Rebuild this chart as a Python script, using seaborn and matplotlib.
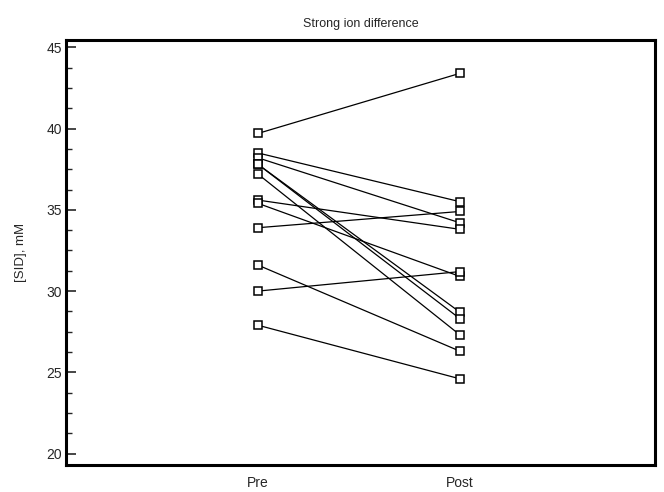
import numpy as np
import pandas as pd
import matplotlib
matplotlib.use("Agg")
import matplotlib.pyplot as plt
import seaborn as sns
from matplotlib.ticker import MultipleLocator

# paired SID values (mM), one entry per subject
pre = [39.7, 38.5, 38.2, 37.8, 37.8, 37.2, 35.6, 35.4, 33.9, 31.6, 30.0, 27.9]
post = [43.4, 35.5, 34.2, 28.7, 28.3, 27.3, 33.8, 30.9, 34.9, 26.3, 31.2, 24.6]
phases = ["Pre", "Post"]

n = len(pre)
df = pd.DataFrame({
    "subject": list(range(n)) * 2,
    "phase": [0] * n + [1] * n,
    "sid": pre + post,
})

sns.set_style("white")
plt.rcParams['font.family'] = ['Liberation Sans', 'DejaVu Sans']

fig = plt.figure(figsize=(6.64, 4.92), dpi=100)
ax = fig.add_axes([0.0994, 0.0549, 0.887, 0.8638])

sns.lineplot(data=df, x="phase", y="sid", units="subject", estimator=None,
             color="black", linewidth=0.9, marker="s", markersize=6,
             markerfacecolor="white", markeredgecolor="black",
             markeredgewidth=1.1, ax=ax)

ax.set_xlim(-0.95, 1.965)
ax.set_ylim(19.3, 45.45)
ax.set_xticks([0, 1])
ax.set_xticklabels(phases)
ax.yaxis.set_major_locator(MultipleLocator(5))
ax.yaxis.set_minor_locator(MultipleLocator(1.25))
ax.tick_params(axis="y", which="major", direction="in", length=7, width=1.2,
               labelsize=10, left=True, pad=3)
ax.tick_params(axis="y", which="minor", direction="in", length=4, width=1.0, left=True)
ax.tick_params(axis="x", length=0, labelsize=10, pad=8)

for s in ax.spines.values():
    s.set_linewidth(2.2)
    s.set_color("black")

ax.set_xlabel("")
ax.set_ylabel("[SID], mM", fontsize=9.5, labelpad=14)
ax.set_title("Strong ion difference", fontsize=9, pad=9)

fig.savefig("out.png", dpi=100)
